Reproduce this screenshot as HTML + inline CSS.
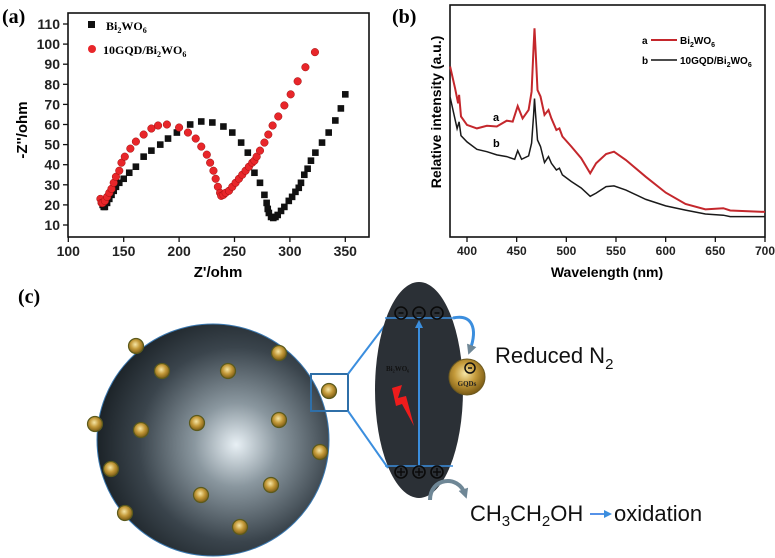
<!DOCTYPE html>
<html><head><meta charset="utf-8"><style>
body{margin:0;background:#fff;}
svg{display:block;font-family:"Liberation Sans",Arial,sans-serif;}
</style></head><body>
<svg id="fig" width="775" height="558" viewBox="0 0 775 558">
<defs>
<radialGradient id="sph" cx="0.6" cy="0.52" r="0.6">
<stop offset="0" stop-color="#e8f0f5"/><stop offset="0.3" stop-color="#8a979f"/><stop offset="0.7" stop-color="#3a444c"/><stop offset="1" stop-color="#1c2328"/></radialGradient>
<radialGradient id="gold" cx="0.45" cy="0.4" r="0.6">
<stop offset="0" stop-color="#f6e6a6"/><stop offset="0.5" stop-color="#c49a3a"/><stop offset="1" stop-color="#7a5a14"/></radialGradient>
<marker id="ah" markerUnits="userSpaceOnUse" markerWidth="8" markerHeight="8" refX="4" refY="4" orient="auto"><path d="M0,0 L8,4 L0,8 z" fill="#3b8ede"/></marker>
<marker id="ag" markerUnits="userSpaceOnUse" markerWidth="10" markerHeight="10" refX="5" refY="5" orient="auto"><path d="M0,0 L10,5 L0,10 z" fill="#6f8796"/></marker>
</defs>
<text x="2" y="23" font-family="Liberation Serif,serif" font-weight="bold" font-size="20">(a)</text>
<text x="392" y="23" font-family="Liberation Serif,serif" font-weight="bold" font-size="20">(b)</text>
<text x="18" y="303" font-family="Liberation Serif,serif" font-weight="bold" font-size="20">(c)</text>
<g id="pa"></g>
<g id="pb"></g>
<g id="pc">
<circle cx="213" cy="440" r="116" fill="url(#sph)" stroke="#3a78b0" stroke-width="1"/>
<g id="dots"></g>
<rect x="311" y="374" width="37" height="37" fill="none" stroke="#2f6fa8" stroke-width="2"/>
<line x1="348" y1="374" x2="392" y2="316" stroke="#3b8ede" stroke-width="2"/>
<line x1="348" y1="411" x2="388" y2="468" stroke="#3b8ede" stroke-width="2"/>
<ellipse cx="419" cy="390" rx="44" ry="108" fill="#2b3036"/>
<line x1="385" y1="318" x2="453" y2="318" stroke="#3b8ede" stroke-width="1.5"/>
<line x1="385" y1="466" x2="453" y2="466" stroke="#3b8ede" stroke-width="1.5"/>
<line x1="419" y1="466" x2="419" y2="324" stroke="#3b8ede" stroke-width="2" marker-end="url(#ah)"/>
<g id="charges"></g>
<text x="386" y="371" font-family="Liberation Serif,serif" font-weight="bold" font-size="7" fill="#111">Bi₂WO₆</text>
<polygon points="392,388 402,385 398,398 406,396 414,426 402,404 396,406" fill="#ee1c1c"/>
<path d="M453,318 C472,314 478,328 470,350" fill="none" stroke="#3b8ede" stroke-width="3" marker-end="url(#ag)"/>
<circle cx="467" cy="377" r="18" fill="url(#gold)" stroke="#6d5a20"/>
<circle cx="470" cy="368" r="5" fill="none" stroke="#111" stroke-width="1.5"/>
<line x1="468" y1="368" x2="472" y2="368" stroke="#111" stroke-width="1.5"/>
<text x="467" y="386" text-anchor="middle" font-family="Liberation Serif,serif" font-weight="bold" font-size="7" fill="#222">GQDs</text>
<path d="M430,500 C430,478 458,474 465,494" fill="none" stroke="#6f8796" stroke-width="4" marker-end="url(#ag)"/>
<text x="495" y="363" font-size="22" fill="#111">Reduced N<tspan font-size="15" dy="6">2</tspan></text>
<text x="470" y="521" font-size="22" fill="#111">CH<tspan font-size="15" dy="5">3</tspan><tspan dy="-5">CH</tspan><tspan font-size="15" dy="5">2</tspan><tspan dy="-5">OH</tspan></text>
<line x1="590" y1="514" x2="608" y2="514" stroke="#1e6fe0" stroke-width="1.5" marker-end="url(#ah)"/>
<text x="614" y="521" font-size="22" fill="#111">oxidation</text>
</g>
</svg>
<script>
// Panel (a) data
const zReBi = [130,131,132,133,135,137,139,141,143,146,150,155,161,168,175,183,190,198,210,220,230,240,248,256,262,268,273,277,279,280,281,283,285,287,289,292,295,299,302,305,308,310,313,316,319,323,329,335,341,346,350];
const zImBi = [22,20,19,19,21,23,25,27,29,31,33,36,39,44,47,50,53,56,60,61.5,61,59,56,51,46,36,31,25,21,18,16,14,13.5,14,15,17,19,22,24,26.5,28.5,31,35,38,42,46,51,56,62,68,75,82];
const zReG = [129,130,131,133,135,137,139,141,143,146,148,151,156,161,168,175,181,189,200,208,215,220,225,228,231,233,235,237,238,240,242,245,248,251,254,257,260,263,266,268,270,273,277,280.5,284.4,289.5,295,300.7,307,314,322.6];
const zImG = [23,21,21,22,24,26,28,31,34,37,41,44,48,51.5,55,58,59.5,60,58.5,56,53,49,45,41,37,33,29,26,24.5,25,26,27,29,31,33,35,37,39,41,42,44,47,51,55,59.5,64,69.5,75,81.5,88.5,96,105];
const zXTicks = [100,150,200,250,300,350];
const zYTicks = [10,20,30,40,50,60,70,80,90,100,110];
// Panel (b) data
const wlRed = [383,388,391,392,394,400,410,420,430,440,446,451,456,462,465,467,468,469,471,474,478,482,485,490,493,496,505,515,524,530,540,548,560,580,600,620,640,658,665,700];
const intRed = [73.4,64,57.6,61.2,51.9,48.3,46.8,47.9,47.6,50.1,49.7,56.4,51.1,54.7,62.6,82,89.8,81.2,63.3,60.5,52.6,54.7,51.1,46.1,46.8,43.3,39,34,27.5,31.8,35.8,36.8,33.2,26,19.2,14.3,12,12.5,11.5,10.9];
const wlBlk = [383,390,392,394,400,410,420,430,440,448,451,455,462,465,467,468,469,471,474,478,482,485,490,493,496,505,515,524,530,540,548,560,580,600,620,640,658,665,700];
const intBlk = [60.3,46.7,49.6,43.7,41,37.8,36.8,35.4,34.7,33.5,37.2,33.5,35,40.5,52.6,59.6,53.3,41.8,39,32.1,34.7,31.8,28.9,29.7,26.8,24,21.2,17.6,19,21.8,22.1,20.3,16.3,13.5,11.7,10,9.5,8.9,8.9];
const wlTicks = [400,450,500,550,600,650,700];

const NS="http://www.w3.org/2000/svg";
function mk(parent,tag,attrs,txt){const e=document.createElementNS(NS,tag);for(const k in attrs)e.setAttribute(k,attrs[k]);if(txt!==undefined)e.textContent=txt;parent.appendChild(e);return e;}

// ---- Panel a ----
const pa=document.getElementById('pa');
const ax=v=>68.3+(v-100)*1.108, ay=v=>225-(v-10)*2.01;
let fr=mk(pa,'rect',{x:68,y:13,width:301,height:224,fill:'none',stroke:'#111','stroke-width':1.6});


zXTicks.forEach(v=>{mk(pa,'line',{x1:ax(v),x2:ax(v),y1:237,y2:242,stroke:'#111','stroke-width':1.3});
 const t=mk(pa,'text',{x:ax(v),y:256,'text-anchor':'middle','font-weight':'bold','font-size':14,fill:'#222'},v);
 
 });
zYTicks.forEach(v=>{mk(pa,'line',{x1:63,x2:68,y1:ay(v),y2:ay(v),stroke:'#111','stroke-width':1.3});
 const t=mk(pa,'text',{x:60,y:ay(v)+5,'text-anchor':'end','font-weight':'bold','font-size':14,fill:'#222'},v);
 
 });
let t=mk(pa,'text',{x:218,y:277,'text-anchor':'middle','font-weight':'bold','font-size':15},"Z'/ohm");


t=mk(pa,'text',{x:0,y:0,'text-anchor':'middle','font-weight':'bold','font-size':15,transform:'translate(27,130) rotate(-90)'},"-Z''/ohm");


zReBi.forEach((v,i)=>{const r=mk(pa,'rect',{x:ax(v)-3.3,y:ay(zImBi[i])-3.3,width:6.6,height:6.6,fill:'#111'});
 
 });
zReG.forEach((v,i)=>{const c=mk(pa,'circle',{cx:ax(v),cy:ay(zImG[i]),r:3.8,fill:'#e8262a',stroke:'#a01010','stroke-width':0.5});
 
 });
let lg=mk(pa,'rect',{x:88,y:21,width:7,height:7,fill:'#111'});


lg=mk(pa,'text',{x:106,y:30,'font-family':'Liberation Serif,serif','font-weight':'bold','font-size':12},'');
lg.innerHTML='Bi<tspan font-size="8" dy="3">2</tspan><tspan dy="-3">WO</tspan><tspan font-size="8" dy="3">6</tspan>';


lg=mk(pa,'circle',{cx:92,cy:49,r:4,fill:'#e8262a'});


lg=mk(pa,'text',{x:103,y:54,'font-family':'Liberation Serif,serif','font-weight':'bold','font-size':12},'');
lg.innerHTML='10GQD/Bi<tspan font-size="8" dy="3">2</tspan><tspan dy="-3">WO</tspan><tspan font-size="8" dy="3">6</tspan>';



// ---- Panel b ----
const pb=document.getElementById('pb');
const bx=v=>467+(v-400)*0.9933, by=v=>237.3-v*2.327;
fr=mk(pb,'rect',{x:450,y:5,width:315,height:232,fill:'none',stroke:'#111','stroke-width':1.6});


wlTicks.forEach(v=>{mk(pb,'line',{x1:bx(v),x2:bx(v),y1:237,y2:242,stroke:'#111','stroke-width':1.3});
 const t=mk(pb,'text',{x:bx(v),y:255,'text-anchor':'middle','font-weight':'bold','font-size':12,fill:'#222'},v);
 
 });
t=mk(pb,'text',{x:607,y:277,'text-anchor':'middle','font-weight':'bold','font-size':14},'Wavelength (nm)');


t=mk(pb,'text',{x:0,y:0,'text-anchor':'middle','font-weight':'bold','font-size':14,transform:'translate(441,112) rotate(-90)'},'Relative intensity (a.u.)');


function line(xs,ys){return xs.map((v,i)=>(i?'L':'M')+bx(v).toFixed(1)+','+by(ys[i]).toFixed(1)).join('');}
let p=mk(pb,'path',{d:line(wlRed,intRed),fill:'none',stroke:'#c4272c','stroke-width':2});


p=mk(pb,'path',{d:line(wlBlk,intBlk),fill:'none',stroke:'#1a1a1a','stroke-width':1.5});


t=mk(pb,'text',{x:493,y:121,'font-weight':'bold','font-size':11},'a');


t=mk(pb,'text',{x:493,y:147,'font-weight':'bold','font-size':11},'b');


mk(pb,'text',{x:642,y:44,'font-weight':'bold','font-size':10},'a');
mk(pb,'line',{x1:651,x2:677,y1:40,y2:40,stroke:'#c4272c','stroke-width':2});
lg=mk(pb,'text',{x:680,y:44,'font-weight':'bold','font-size':10},'');
lg.innerHTML='Bi<tspan font-size="7" dy="3">2</tspan><tspan dy="-3">WO</tspan><tspan font-size="7" dy="3">6</tspan>';


mk(pb,'text',{x:642,y:64,'font-weight':'bold','font-size':10},'b');
mk(pb,'line',{x1:651,x2:677,y1:60,y2:60,stroke:'#111','stroke-width':1.5});
lg=mk(pb,'text',{x:680,y:64,'font-weight':'bold','font-size':10},'');
lg.innerHTML='10GQD/Bi<tspan font-size="7" dy="3">2</tspan><tspan dy="-3">WO</tspan><tspan font-size="7" dy="3">6</tspan>';



// ---- Panel c decorations ----
const dotsX=[136,162,228,279,329,141,197,279,95,320,111,271,201,125,240];
const dotsY=[346,371,371,353,391,430,423,420,424,452,469,485,495,513,527];
const dg=document.getElementById('dots');
dotsX.forEach((x,i)=>{const c=mk(dg,'circle',{cx:x,cy:dotsY[i],r:7.5,fill:'url(#gold)',stroke:'#5b5a1c','stroke-width':1.2});
 
 });
const cg=document.getElementById('charges');
[401,419,437].forEach(x=>{
 const a=mk(cg,'circle',{cx:x,cy:313,r:6,fill:'none',stroke:'#0a0a0a','stroke-width':1.6});
 
 
 mk(cg,'line',{x1:x-2.5,x2:x+2.5,y1:313,y2:313,stroke:'#0a0a0a','stroke-width':1.5});
 const b=mk(cg,'circle',{cx:x,cy:472,r:6,fill:'none',stroke:'#0a0a0a','stroke-width':1.6});
 
 
 mk(cg,'line',{x1:x-4,x2:x+4,y1:472,y2:472,stroke:'#0a0a0a','stroke-width':1.4});
 mk(cg,'line',{x1:x,x2:x,y1:468,y2:476,stroke:'#0a0a0a','stroke-width':1.4});
});
</script>
</body></html>
